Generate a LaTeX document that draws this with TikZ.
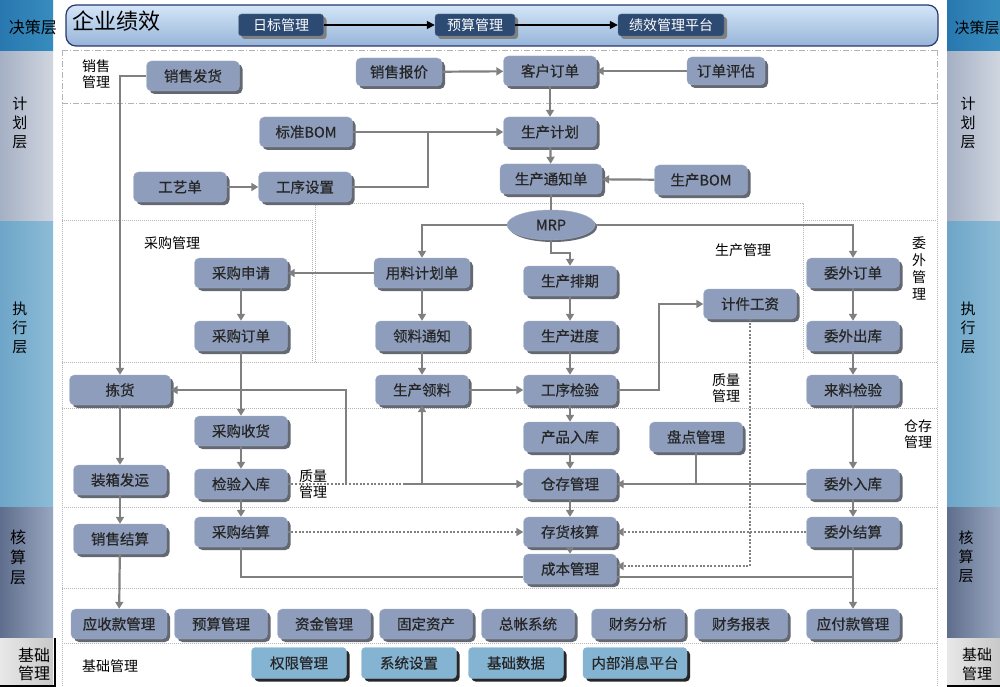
\documentclass[tikz,border=0pt]{standalone}
\usepackage{fontspec}
\setmainfont{Noto Sans CJK SC}
\newfontfamily\boxfont[FakeBold=0.5]{Noto Sans CJK SC}
\usetikzlibrary{arrows.meta,shadows,shapes.geometric}
\definecolor{nodefill}{RGB}{141,157,187}
\definecolor{nodeborder}{RGB}{160,174,200}
\definecolor{nodeshadow}{RGB}{100,104,114}
\definecolor{linegray}{RGB}{128,128,128}
\definecolor{darknode}{RGB}{44,74,114}
\definecolor{lightnode}{RGB}{132,180,210}
\definecolor{bandborder}{RGB}{40,55,110}
\definecolor{framegray}{RGB}{180,180,180}
\tikzset{
  box/.style={draw=nodeborder, fill=nodefill, rounded corners=5pt, minimum width=93pt,
    minimum height=30pt, inner sep=0pt, text=black!85,
    font=\boxfont\fontsize{14.5}{15}\selectfont,
    drop shadow={shadow xshift=3pt, shadow yshift=-3pt, fill=nodeshadow, opacity=1}},
  topbox/.style={draw=darknode!70!white, fill=darknode, rounded corners=3pt, minimum height=22pt,
    inner sep=0pt, text=white, font=\fontsize{14}{14}\selectfont,
    drop shadow={shadow xshift=3pt, shadow yshift=-3pt, fill=gray, opacity=1}},
  basebox/.style={draw=lightnode, fill=lightnode, rounded corners=4pt, minimum width=95pt,
    minimum height=31pt, inner sep=0pt, text=black!85, font=\boxfont\fontsize{14.5}{15}\selectfont,
    drop shadow={shadow xshift=3pt, shadow yshift=-3pt, fill=black!85, opacity=1}},
  flow/.style={draw=linegray, line width=2.2pt, -{Triangle[width=8pt,length=7pt]}},
  plainline/.style={draw=linegray, line width=2.2pt},
  dotflow/.style={flow, dash pattern=on 2pt off 1.6pt},
  dotline/.style={plainline, dash pattern=on 2pt off 1.6pt},
  blackflow/.style={draw=black, line width=1.6pt, -{Triangle[width=8pt,length=8pt]}},
  lbl/.style={font=\fontsize{14}{16}\selectfont, align=center, inner sep=0pt},
  bandlbl/.style={font=\fontsize{15}{19}\selectfont, align=center, inner sep=0pt},
  region/.style={draw=framegray, line width=0.7pt, dash pattern=on 1pt off 1pt},
  dashregion/.style={draw=framegray, line width=0.9pt, dash pattern=on 6pt off 2pt on 1pt off 2pt}
}
\begin{document}
\begin{tikzpicture}[x=1pt,y=-1pt]
\useasboundingbox (0,0) rectangle (1000,687);
\fill[white] (0,0) rectangle (1000,687);

% ---------- side bands ----------
\foreach \bx in {0,947}{
  \fill[left color={rgb,255:red,40;green,120;blue,175}, right color={rgb,255:red,55;green,140;blue,190}] (\bx,0) rectangle (\bx+53,52);
  \fill[left color={rgb,255:red,165;green,176;blue,196}, right color={rgb,255:red,208;green,214;blue,224}] (\bx,52) rectangle (\bx+53,221);
  \fill[left color={rgb,255:red,110;green,165;blue,200}, right color={rgb,255:red,140;green,188;blue,214}] (\bx,221) rectangle (\bx+53,507);
  \fill[left color={rgb,255:red,95;green,110;blue,140}, right color={rgb,255:red,152;green,166;blue,192}] (\bx,507) rectangle (\bx+53,638);
  \fill[left color={rgb,255:red,232;green,232;blue,232}, right color={rgb,255:red,200;green,200;blue,200}] (\bx,638) rectangle (\bx+53,687);
}
\draw[black, line width=2pt] (55,638) -- (55,686) -- (0,686);
\draw[black, line width=2pt] (1000,686) -- (947,686);

\node[bandlbl, font=\fontsize{16}{19}\selectfont] (ljc) at (33,27) {决策层};
\node[bandlbl] (ljh) at (20,123) {计\\划\\层};
\node[bandlbl] (lzx) at (20,328) {执\\行\\层};
\node[bandlbl, font=\fontsize{16}{20}\selectfont] (lhs) at (18,557) {核\\算\\层};
\node[bandlbl, font=\fontsize{16}{18}\selectfont] (ljcgl) at (34,664) {基础\\管理};
\node[bandlbl] (rjc) at (977,28) {决策层};
\node[bandlbl] (rjh) at (968,123) {计\\划\\层};
\node[bandlbl] (rzx) at (968,328) {执\\行\\层};
\node[bandlbl] (rhs) at (966,557) {核\\算\\层};
\node[bandlbl] (rjcgl) at (977,664) {基础\\管理};

% ---------- region frames ----------
\draw[dashregion] (62,50) -- (937,50);
\draw[dashregion] (62,103) -- (937,103);
\draw[dashregion] (62,50) -- (62,103);
\draw[dashregion] (937,50) -- (937,103);
\draw[region] (62,103) -- (62,687);
\draw[region] (937,103) -- (937,687);
\draw[region] (62,220) -- (312,220) -- (312,362);
\draw[region] (315,362) -- (315,203) -- (803,203) -- (803,360);
\draw[region] (803,220) -- (937,220);
\draw[region] (62,362) -- (937,362);
\draw[region] (62,408) -- (937,408);
\draw[region] (62,507) -- (937,507);
\draw[region] (62,588) -- (937,588);
\draw[region] (62,643) -- (937,643);

% ---------- top band ----------
\draw[rounded corners=10pt, draw=bandborder, line width=1.2pt,
  top color={rgb,255:red,212;green,230;blue,248}, bottom color={rgb,255:red,150;green,180;blue,216}]
  (66,5) rectangle (938,46);
\node[inner sep=0pt, font=\fontsize{22}{22}\selectfont] (qyjx) at (116,21) {企业绩效};
\node[topbox, minimum width=85pt] (mbgl) at (281,25) {日标管理};
\node[topbox, minimum width=80pt] (ysgl) at (475,25) {预算管理};
\node[topbox, minimum width=106pt] (jxpt) at (671,25) {绩效管理平台};

% ---------- labels ----------
\node[lbl] (lxsgl) at (96,74) {销售\\管理};
\node[lbl] (lcggl) at (172,243) {采购管理};
\node[lbl] (lscgl) at (743,250) {生产管理};
\node[lbl, font=\fontsize{14}{17}\selectfont] (lwwgl) at (919,268) {委\\外\\管\\理};
\node[lbl] (lzlgl) at (726,388) {质量\\管理};
\node[lbl] (lccgl) at (918,434) {仓存\\管理};
\node[lbl] (lzlgl2) at (313,484) {质量\\管理};
\node[lbl] (ljcgl2) at (110,666) {基础管理};

% ---------- nodes ----------
\node[box] (xsfh) at (193,76) {销售发货};
\node[box, minimum width=86pt, minimum height=28pt] (xsbj) at (399,72) {销售报价};
\node[box] (khdd) at (550,71) {客户订单};
\node[box, minimum width=78pt, minimum height=28pt] (ddpg) at (726,71) {订单评估};
\node[box] (bzbom) at (306,132) {标准BOM};
\node[box] (scjh) at (550,132) {生产计划};
\node[box] (gyd) at (180,187) {工艺单};
\node[box] (gxsz) at (305,187) {工序设置};
\node[box, minimum width=102pt] (sctz) at (551,179) {生产通知单};
\node[box] (scbom) at (701,180) {生产BOM};
\node[ellipse, draw=nodeborder, fill=nodefill, minimum width=88pt, minimum height=30pt, inner sep=0pt,
  font=\boxfont\fontsize{14.5}{15}\selectfont, text=black!85,
  drop shadow={shadow xshift=2pt, shadow yshift=-2pt, fill=nodeshadow, opacity=1}] (mrp) at (551,225) {MRP};
\node[box, minimum width=96pt] (ylplan) at (422,273) {用料计划单};
\node[box] (cgsq) at (241,273) {采购申请};
\node[box] (scpq) at (570,281) {生产排期};
\node[box] (wwdd) at (853,273) {委外订单};
\node[box] (jjgz) at (750,304) {计件工资};
\node[box] (cgdd) at (241,336) {采购订单};
\node[box] (lltz) at (422,336) {领料通知};
\node[box] (scjd) at (570,336) {生产进度};
\node[box] (wwck) at (853,336) {委外出库};
\node[box, minimum width=101pt] (jh) at (120,390) {拣货};
\node[box] (scll) at (422,390) {生产领料};
\node[box] (gxjy) at (570,390) {工序检验};
\node[box] (lljy) at (853,390) {来料检验};
\node[box] (cgsh) at (241,431) {采购收货};
\node[box] (cprk) at (570,437) {产品入库};
\node[box] (pdgl) at (696,437) {盘点管理};
\node[box] (zxfy) at (120,480) {装箱发运};
\node[box] (jyrk) at (241,484) {检验入库};
\node[box] (ccgl) at (570,484) {仓存管理};
\node[box] (wwrk) at (853,484) {委外入库};
\node[box] (xsjs) at (120,539) {销售结算};
\node[box] (cgjs) at (241,532) {采购结算};
\node[box] (chhs) at (570,532) {存货核算};
\node[box] (wwjs) at (853,532) {委外结算};
\node[box] (cbgl) at (570,569) {成本管理};
\node[box, minimum width=96pt] (ysk) at (119,624) {应收款管理};
\node[box] (ysgl2) at (221,624) {预算管理};
\node[box] (zjgl) at (324,624) {资金管理};
\node[box] (gdzc) at (426,624) {固定资产};
\node[box] (zzxt) at (528,624) {总帐系统};
\node[box] (cwfx) at (638,624) {财务分析};
\node[box] (cwbb) at (741,624) {财务报表};
\node[box] (yfk) at (853,624) {应付款管理};
\node[basebox] (qxgl) at (299,663) {权限管理};
\node[basebox] (xtsz) at (409,663) {系统设置};
\node[basebox] (jcsj) at (516,663) {基础数据};
\node[basebox, minimum width=104pt] (nbxx) at (635,663) {内部消息平台};

% ---------- coordinates ----------
\coordinate (jbom) at (428,132);
\coordinate (jmrp) at (570,253);
\coordinate (jjy) at (659,390);
\coordinate (jdot) at (405,484);
\coordinate (jjh) at (346,484);
\coordinate (jll) at (422,484);
\coordinate (jjj) at (750,566);
\coordinate (jcb) at (853,577);
\coordinate (jcg) at (241,577);

% ---------- connectors ----------
\draw[blackflow] (mbgl) -- (ysgl);
\draw[blackflow] (ysgl) -- (jxpt);
\draw[flow] (xsbj) -- (khdd);
\draw[flow] (ddpg) -- (khdd);
\draw[flow] (khdd) -- (scjh);
\draw[flow] (scjh) -- (sctz);
\draw[flow] (scbom) -- (sctz);
\draw[flow] (bzbom) -- (scjh);
\draw[plainline] (gxsz.east) -| (jbom);
\draw[flow] (gyd) -- (gxsz);
\draw[plainline] (sctz) -- (mrp);
\draw[flow] (mrp.west) -| (ylplan.north);
\draw[flow] (mrp.south) |- (jmrp) -- (scpq.north);
\draw[flow] (mrp.east) -| (wwdd.north);
\draw[flow] (ylplan) -- (cgsq);
\draw[flow] (cgsq) -- (cgdd);
\draw[flow] (cgdd) -- (cgsh);
\draw[flow] (cgsh) -- (jyrk);
\draw[flow] (jyrk) -- (cgjs);
\draw[flow] (ylplan) -- (lltz);
\draw[flow] (lltz) -- (scll);
\draw[flow] (scpq) -- (scjd);
\draw[flow] (scjd) -- (gxjy);
\draw[flow] (scll) -- (gxjy);
\draw[flow] (gxjy.east) -- (jjy) |- (jjgz.west);
\draw[flow] (gxjy) -- (cprk);
\draw[flow] (cprk) -- (ccgl);
\draw[flow] (ccgl) -- (chhs);
\draw[flow] (chhs) -- (cbgl);
\draw[flow] (wwdd) -- (wwck);
\draw[flow] (wwck) -- (lljy);
\draw[flow] (lljy) -- (wwrk);
\draw[flow] (wwrk) -- (wwjs);
\draw[flow] (wwjs) -- (yfk);
\draw[flow] (wwrk) -- (ccgl);
\draw[plainline] (pdgl.south) -- (pdgl.south |- ccgl.east);
\draw[flow] (xsfh.west) -| (jh.north);
\draw[flow] (jh) -- (zxfy);
\draw[flow] (zxfy) -- (xsjs);
\draw[flow] (xsjs) -- (ysk);
\draw[dotline] (jyrk.east) -- (jdot);
\draw[flow] (jdot) -- (ccgl.west);
\draw[flow] (jjh) |- (jh.east);
\draw[flow] (jll) -- (scll.south);
\draw[dotflow] (cgjs) -- (chhs);
\draw[dotflow] (wwjs) -- (chhs);
\draw[dotflow] (jjgz.south) -- (jjj) -- (cbgl.east |- jjj);
\draw[plainline] (cgjs.south) -- (jcg) -- (cbgl.west |- jcg);
\draw[plainline] (cbgl.east |- jcb) -- (jcb);
\end{tikzpicture}
\end{document}
